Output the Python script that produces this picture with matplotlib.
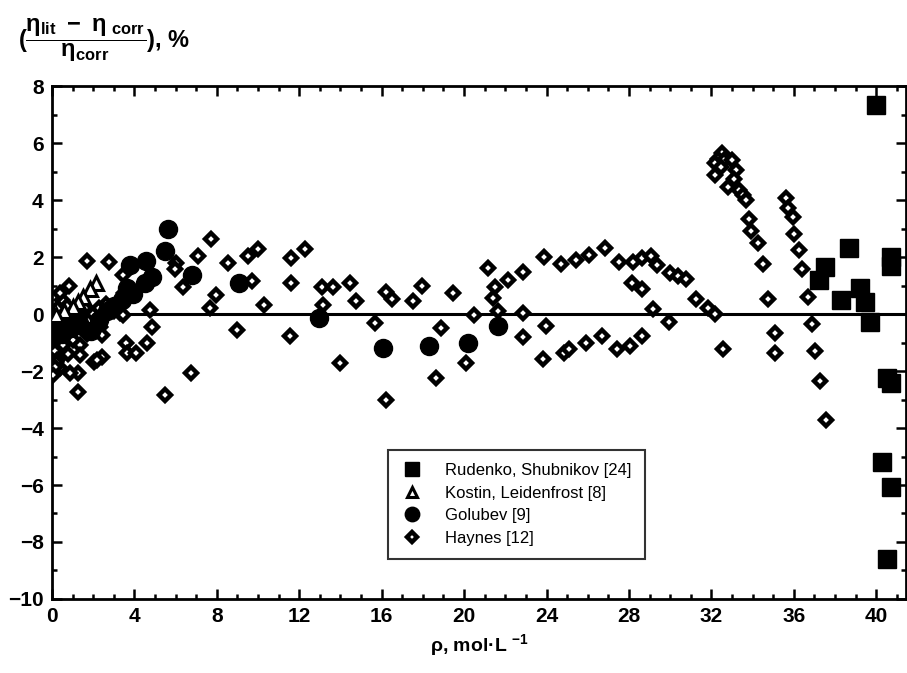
import matplotlib
matplotlib.use("Agg")
import matplotlib.pyplot as plt
from matplotlib.ticker import MultipleLocator

plt.rcParams['font.family'] = ['Liberation Sans', 'DejaVu Sans']
plt.rcParams['mathtext.fontset'] = 'custom'
plt.rcParams['mathtext.rm'] = 'Liberation Sans:bold'
plt.rcParams['mathtext.it'] = 'Liberation Sans:bold'
plt.rcParams['mathtext.bf'] = 'Liberation Sans:bold'

# ---- data ----
rud_x = [40.0, 38.7, 40.7, 40.7, 37.5, 37.2, 39.2, 39.45, 38.3, 39.7, 40.5, 40.7, 40.3, 40.7, 40.5]
rud_y = [7.33, 2.33, 2.0, 1.7, 1.66, 1.19, 0.91, 0.43, 0.49, -0.27, -2.23, -2.43, -5.18, -6.08, -8.6]

kos_x = [2.15, 1.85, 1.5, 1.25, 1.0, 0.6, 0.2]
kos_y = [1.1, 0.88, 0.6, 0.42, 0.25, 0.1, -0.05]

gol_x = [0.05, 0.2, 0.5, 0.9, 1.3, 1.9, 2.3, 2.65, 3.0, 3.4, 3.65, 3.95, 3.8, 4.5,
         4.55, 4.85, 5.5, 5.65, 6.8, 9.1, 12.95, 16.05, 18.3, 20.2, 21.65]
gol_y = [-0.8, -0.5, -0.7, -0.5, -0.3, -0.6, -0.2, 0.1, 0.3, 0.5, 0.9, 0.7, 1.72, 1.1,
         1.85, 1.3, 2.2, 3.0, 1.37, 1.1, -0.15, -1.2, -1.12, -1.0, -0.42]

hay_x = [0.05, 0.1, 0.15, 0.2, 0.25, 0.3, 0.35, 0.4, 0.45, 0.5, 0.55, 0.6, 0.7, 0.75,
         0.8, 0.9, 1.0, 1.1, 1.2, 1.35, 1.45, 1.6, 1.7, 1.8, 2.0, 2.1, 2.3, 2.5, 2.6,
         2.8, 3.0, 3.2, 3.3, 3.5,
         1.68, 2.78, 0.84, 0.39, 3.46, 6.0, 5.96, 6.34, 7.09, 7.74, 8.52, 7.94, 9.52,
         10.0, 9.73, 7.66, 4.75, 4.86, 4.59, 3.57, 3.62, 4.1, 2.41, 2.05, 1.24, 0.87,
         1.24, 6.74, 9.0, 5.5, 3.46, 2.33, 2.41, 1.36, 0.1, 0.19, 2.17, 0.15, 0.06,
         10.3, 11.62, 12.3, 11.62, 11.54, 13.12, 13.64, 13.16, 14.45, 14.74, 14.0,
         15.66, 16.21, 16.5, 16.23, 17.52, 17.97, 18.9, 18.65, 19.44, 20.1, 20.48,
         21.17, 21.48, 21.4, 21.64,
         22.12, 22.85, 22.85, 22.85, 23.87, 23.98, 23.82, 24.71, 24.87, 25.08, 25.44,
         25.92, 26.08, 26.67, 26.85, 27.41, 27.5, 28.07, 28.14, 28.22, 28.62, 28.62,
         28.62, 29.07, 29.38, 29.19, 29.95, 30.0, 30.4, 30.77, 31.26, 31.82, 32.2,
         32.55, 32.5, 32.3, 32.2, 32.63, 33.0, 32.47, 32.18, 33.2, 32.79, 33.12, 33.36,
         33.52, 33.68, 33.84, 33.92, 34.25, 34.49, 34.76, 35.1, 35.1,
         35.62, 35.7, 35.94, 36.02, 36.27, 36.4, 36.67, 36.88, 37.04, 37.27, 37.56]
hay_y = [-1.0, -0.5, -1.3, -0.2, -1.6, 0.2, -0.8, -1.9, -0.4, 0.5, -1.1, -0.1, -0.6, 0.3,
         -1.4, -0.3, -0.9, 0.1, -0.4, -1.1, -0.2, 0.2, -0.7, -0.2, 0.0, -0.45, 0.2, -0.1, 0.35,
         0.2, 0.1, 0.4, 0.05, 0.75,
         1.86, 1.84, 1.0, 0.73, 1.37, 1.8, 1.57, 0.96, 2.04, 2.63, 1.78, 0.67, 2.04,
         2.3, 1.16, 0.2, 0.14, -0.44, -1.03, -1.0, -1.38, -1.36, -1.5, -1.67, -2.06, -2.06,
         -2.74, -2.06, -0.56, -2.84, -0.04, -0.44, -0.74, -1.44, -2.02, -1.67, -1.61, -1.85, -2.14,
         0.32, 1.98, 2.3, 1.08, -0.76, 0.94, 0.94, 0.32, 1.08, 0.46, -1.73,
         -0.3, 0.78, 0.52, -3.0, 0.46, 0.98, -0.5, -2.23, 0.73, -1.73, -0.04,
         1.61, 0.94, 0.57, 0.12,
         1.19, 1.47, 0.05, -0.8, 2.02, -0.42, -1.56, 1.75, -1.36, -1.24, 1.89,
         -1.03, 2.09, -0.76, 2.32, -1.24, 1.84, -1.12, 1.08, 1.82, 0.87, 1.98,
         -0.76, 2.05, 1.71, 0.19, -0.29, 1.43, 1.35, 1.22, 0.53, 0.22, 0.0,
         -1.24, 5.67, 5.46, 5.29, 5.4, 5.4, 5.15, 4.88, 5.05, 4.47, 4.74, 4.37,
         4.17, 4.0, 3.32, 2.92, 2.48, 1.75, 0.53, -0.68, -1.38,
         4.09, 3.73, 3.41, 2.81, 2.25, 1.57, 0.61, -0.35, -1.3, -2.34, -3.72]

x_ticks = [0, 4, 8, 12, 16, 20, 24, 28, 32, 36, 40]
y_ticks = [-10, -8, -6, -4, -2, 0, 2, 4, 6, 8]

fig = plt.figure(figsize=(9.07, 6.73), dpi=100)
ax = fig.add_axes([0.0573, 0.110, 0.9417, 0.762])

ax.axhline(0, color='black', lw=2.2, zorder=1)

ax.plot(hay_x, hay_y, linestyle='none', marker='D', ms=6.5, mfc='white', mec='black',
        mew=3.2, label='Haynes [12]', zorder=3)
ax.plot(gol_x, gol_y, linestyle='none', marker='o', ms=13, mfc='black', mec='black',
        label='Golubev [9]', zorder=4)
ax.plot(kos_x, kos_y, linestyle='none', marker='^', ms=9.5, mfc='white', mec='black',
        mew=2.2, label='Kostin, Leidenfrost [8]', zorder=5)
ax.plot(rud_x, rud_y, linestyle='none', marker='s', ms=12.5, mfc='black', mec='black',
        label='Rudenko, Shubnikov [24]', zorder=5)

ax.set_xlim(0, 41.45)
ax.set_ylim(-10, 8)
ax.set_xticks(x_ticks)
ax.set_yticks(y_ticks)
ax.xaxis.set_minor_locator(MultipleLocator(1))
ax.yaxis.set_minor_locator(MultipleLocator(1))
ax.tick_params(which='both', direction='in', top=True, right=True, width=1.8)
ax.tick_params(which='major', length=7, labelsize=15, pad=6)
ax.tick_params(which='minor', length=3.5)
for lbl in ax.get_xticklabels() + ax.get_yticklabels():
    lbl.set_fontweight('bold')
for sp in ax.spines.values():
    sp.set_linewidth(2)

ax.set_xlabel(r'ρ, mol·L $^{-1}$', fontsize=14, fontweight='bold', labelpad=4)

fig.text(0.02, 0.94, r'$(\dfrac{\eta_{\mathrm{lit}}\ -\ \eta_{\ \mathrm{corr}}}{\eta_{\mathrm{corr}}})$, %',
         fontsize=17, fontweight='bold', ha='left', va='center')

handles, labels = ax.get_legend_handles_labels()
order = [3, 2, 1, 0]
leg = ax.legend([handles[i] for i in order], [labels[i] for i in order],
                loc='lower left', bbox_to_anchor=(0.384, 0.062), fontsize=12,
                frameon=True, fancybox=False, edgecolor='black', borderpad=0.8,
                handlelength=1.2, handletextpad=1.4, labelspacing=0.45, markerscale=0.8)
leg.get_frame().set_linewidth(1.5)

fig.savefig('out.png', dpi=100)
